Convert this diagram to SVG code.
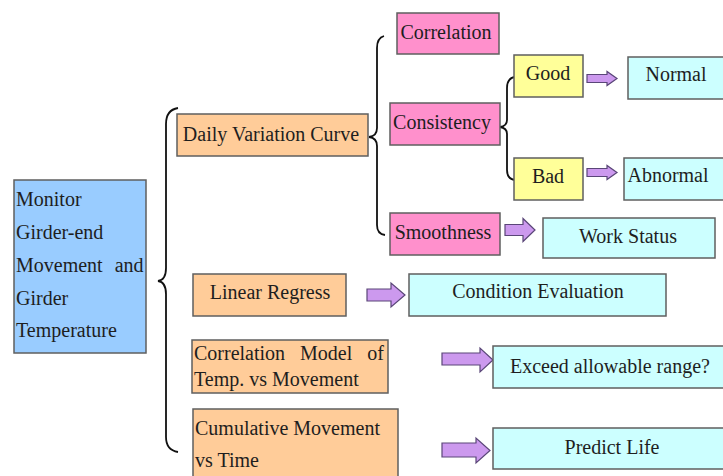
<svg xmlns="http://www.w3.org/2000/svg" width="723" height="476" viewBox="0 0 723 476">
<style>
  .box{stroke:#5f5f5f;stroke-width:1.5}
  .blue{fill:#99CCFF}
  .peach{fill:#FFCC99}
  .pink{fill:#FF90CC}
  .yellow{fill:#FFFF99}
  .cyan{fill:#CCFFFF}
  text{font-family:"Liberation Serif","Times New Roman",serif;font-size:20px;fill:#1e1e1e}
  .c{text-anchor:middle}
  .brace{fill:none;stroke:#111;stroke-width:1.8}
  .arrow{fill:#CC99EE;stroke:#5a4678;stroke-width:1.2}
</style>
<rect width="723" height="476" fill="#ffffff"/>

<g id="connectors">
  <path class="brace" d="M178,108 Q166,110 166,124 L166,268 Q166,280 158,281 Q166,282 166,294 L166,437 Q166,450 178,452"/>
  <path class="brace" d="M384,36 Q377,38 377,48 L377,128 Q377,136 369,137 Q377,138 377,146 L377,225 Q377,234 385,235"/>
  <path class="brace" d="M515,77 Q507,78 507,88 L507,120 Q507,126 500,127 Q507,128 507,134 L507,170 Q507,179 515,180"/>
  <path class="arrow" d="M587,74.5 L607,74.5 L607,71.5 L617,78.5 L607,85.5 L607,82.5 L587,82.5 Z"/>
  <path class="arrow" d="M587,168.5 L607,168.5 L607,165.5 L617,172.5 L607,179.5 L607,176.5 L587,176.5 Z"/>
  <path class="arrow" d="M505,224.5 L523,224.5 L523,218.5 L535,230 L523,241.5 L523,235.5 L505,235.5 Z"/>
  <path class="arrow" d="M367,289 L391,289 L391,283 L405,295 L391,307 L391,301 L367,301 Z"/>
  <path class="arrow" d="M442,353 L480,353 L480,348 L493,360 L480,372 L480,365 L442,365 Z"/>
  <path class="arrow" d="M442,443 L476,443 L476,438 L490,450.5 L476,463 L476,457 L442,457 Z"/>
</g>

<g id="monitor">
  <rect class="box blue" x="14" y="180" width="132" height="173"/>
  <text x="16" y="206">Monitor</text>
  <text x="16" y="239">Girder-end</text>
  <text x="16" y="272" word-spacing="7">Movement and</text>
  <text x="16" y="305">Girder</text>
  <text x="16" y="337">Temperature</text>
</g>

<g id="daily">
  <rect class="box peach" x="177" y="114" width="191" height="42"/>
  <text class="c" x="271" y="141">Daily Variation Curve</text>
</g>

<g id="correlation">
  <rect class="box pink" x="397" y="13" width="102" height="41"/>
  <text class="c" x="446" y="39">Correlation</text>
</g>

<g id="consistency">
  <rect class="box pink" x="390" y="103" width="110" height="42"/>
  <text class="c" x="442" y="129">Consistency</text>
</g>

<g id="smoothness">
  <rect class="box pink" x="390" y="213" width="110" height="42"/>
  <text class="c" x="443" y="239">Smoothness</text>
</g>

<g id="good">
  <rect class="box yellow" x="514" y="55" width="69" height="42"/>
  <text class="c" x="548" y="80">Good</text>
</g>

<g id="bad">
  <rect class="box yellow" x="514" y="158" width="69" height="42"/>
  <text class="c" x="548" y="183">Bad</text>
</g>

<g id="normal">
  <rect class="box cyan" x="628" y="57" width="102" height="42"/>
  <text class="c" x="676" y="81">Normal</text>
</g>

<g id="abnormal">
  <rect class="box cyan" x="624" y="158" width="106" height="42"/>
  <text class="c" x="668" y="182">Abnormal</text>
</g>

<g id="workstatus">
  <rect class="box cyan" x="543" y="218" width="172" height="40"/>
  <text class="c" x="628" y="243">Work Status</text>
</g>

<g id="linear">
  <rect class="box peach" x="193" y="274" width="153" height="42"/>
  <text class="c" x="270" y="299">Linear Regress</text>
</g>

<g id="condition">
  <rect class="box cyan" x="409" y="274" width="257" height="42"/>
  <text class="c" x="538" y="298">Condition Evaluation</text>
</g>

<g id="corrmodel">
  <rect class="box peach" x="192" y="340" width="196" height="53"/>
  <text x="194" y="360" word-spacing="10">Correlation Model of</text>
  <text x="194" y="386">Temp. vs Movement</text>
</g>

<g id="exceed">
  <rect class="box cyan" x="493" y="346" width="237" height="42"/>
  <text x="510" y="373">Exceed allowable range?</text>
</g>

<g id="cumulative">
  <rect class="box peach" x="193" y="409" width="205" height="80"/>
  <text x="195" y="435">Cumulative Movement</text>
  <text x="195" y="467">vs Time</text>
</g>

<g id="predict">
  <rect class="box cyan" x="493" y="428" width="237" height="41"/>
  <text class="c" x="612" y="454">Predict Life</text>
</g>
</svg>
